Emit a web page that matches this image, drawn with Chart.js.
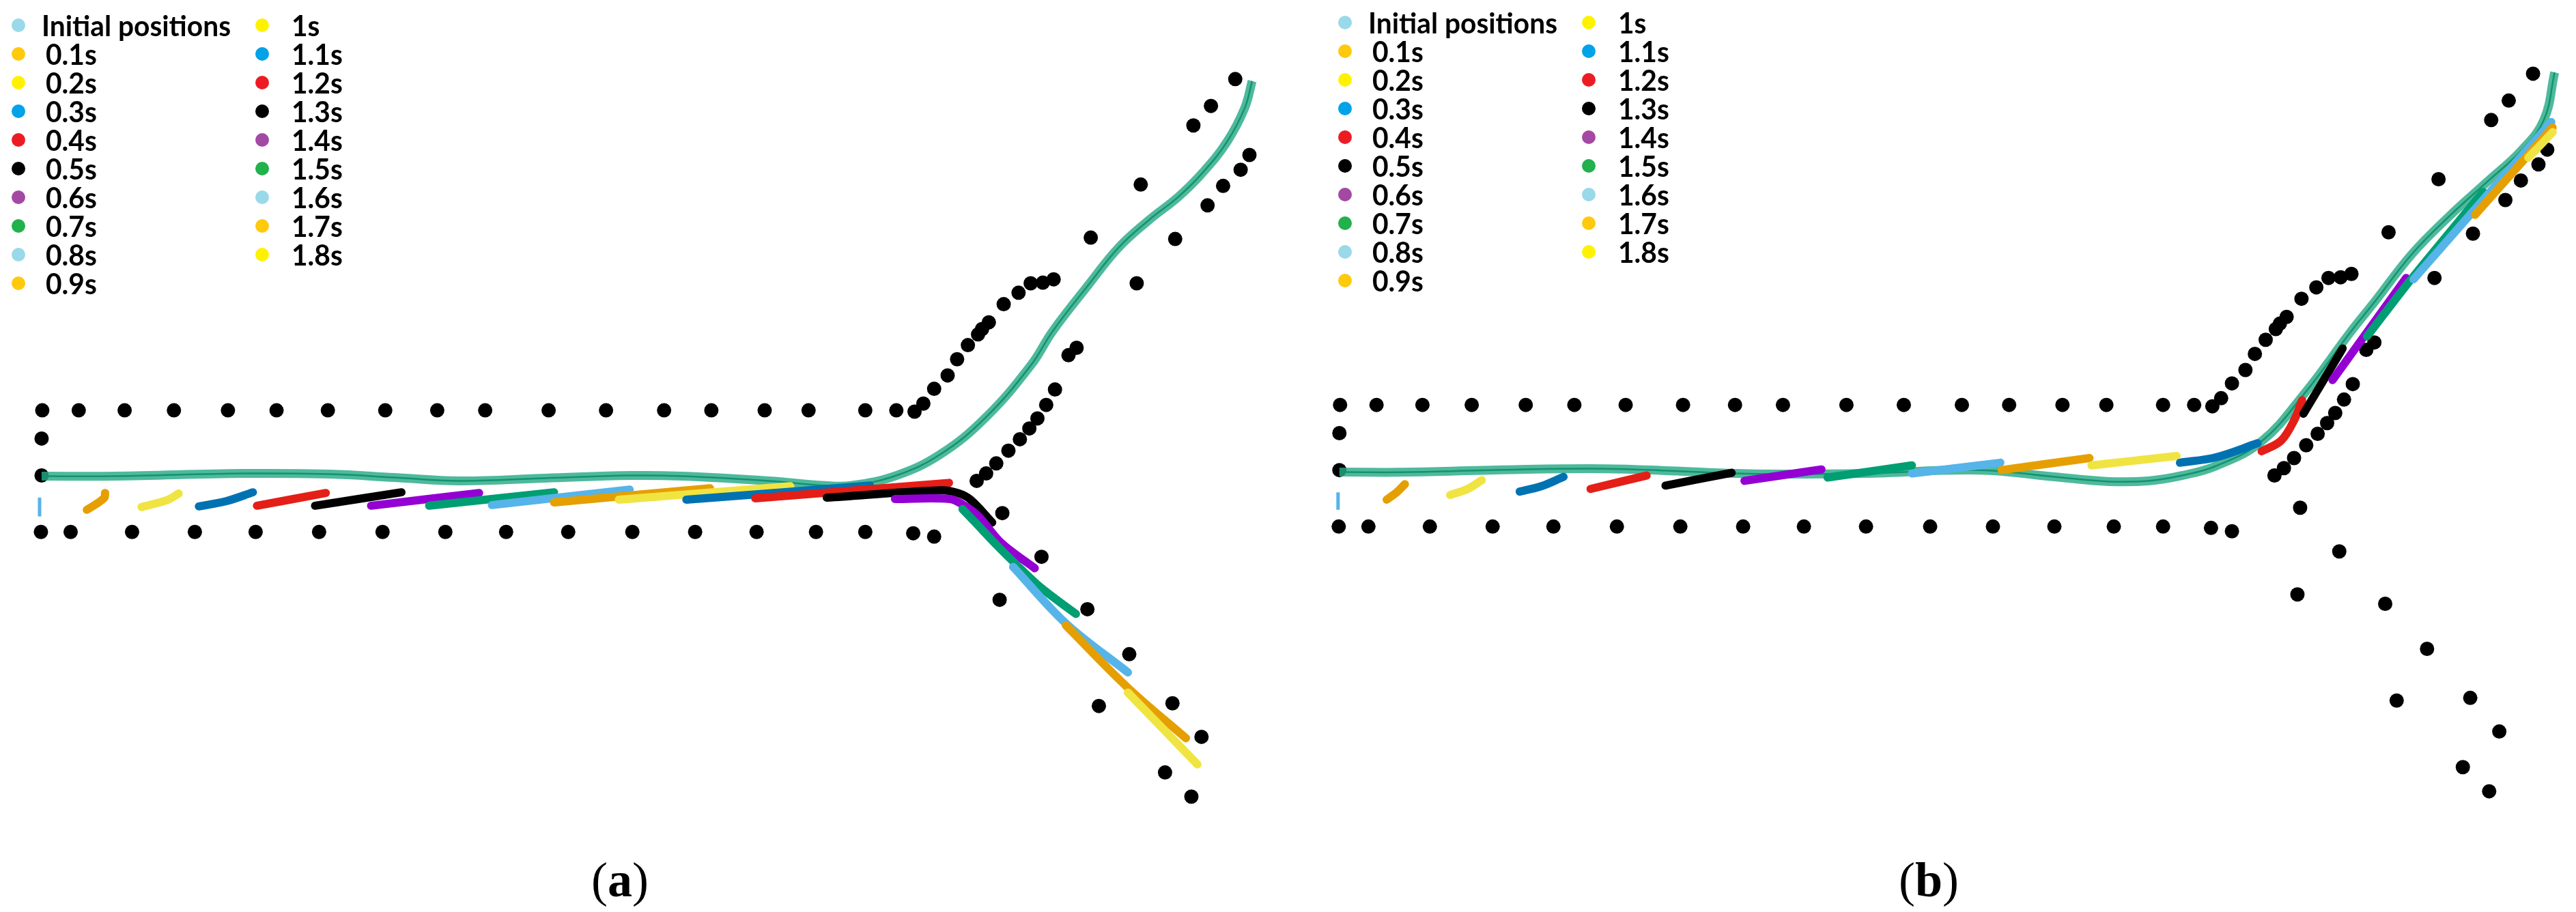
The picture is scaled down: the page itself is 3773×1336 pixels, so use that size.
<!DOCTYPE html>
<html>
<head>
<meta charset="utf-8">
<script src="https://cdn.jsdelivr.net/npm/chart.js@4.4.1/dist/chart.umd.min.js"></script>
<style>
    html, body { margin: 0; padding: 0; background: #fff; }
    #fig { position: relative; width: 3773px; height: 1336px; overflow: hidden; background: #fff; }
    #fig canvas { position: absolute; top: 0; }
    #chartA { left: 0; }
    #chartB { left: 1887px; }
    .legend { position: absolute; left: 0; top: 0; font-family: Lato, "Open Sans", sans-serif; font-weight: 700; font-size: 42px; color: #000; }
    .item { position: absolute; height: 40px; }
    .dot { position: absolute; left: -10px; top: 10px; width: 20px; height: 20px; border-radius: 50%; }
    .label { position: absolute; top: 0; line-height: 40px; white-space: nowrap; transform-origin: 0 50%; }
    .caption { position: absolute; top: 1253px; font-family: "Liberation Serif", "Times New Roman", serif; font-size: 72px; line-height: 72px; transform: translateX(-50%); }
</style>
</head>
<body>
<div id="fig">
    <canvas id="chartA" width="1886" height="1336"></canvas>
    <canvas id="chartB" width="1886" height="1336"></canvas>
    <div class="legend" id="legendA"></div>
    <div class="legend" id="legendB"></div>
    <div class="caption" style="left:908px">(<b>a</b>)</div>
    <div class="caption" style="left:2825px">(<b>b</b>)</div>
</div>
<script>
// legend entries, one per snapshot time
const timeLabels = ['Initial positions', '0.1s', '0.2s', '0.3s', '0.4s', '0.5s', '0.6s', '0.7s', '0.8s', '0.9s',
    '1s', '1.1s', '1.2s', '1.3s', '1.4s', '1.5s', '1.6s', '1.7s', '1.8s'];

// wall / obstacle markers (scene units, origin at the lower-left corner of the corridor)
const wallLeft = [[0, 139], [0, 84]];
const wallTop = [[1, 181], [55, 181], [123, 181], [196, 181], [276, 181], [348, 181], [424, 181], [509, 181],
    [586, 181], [657, 181], [751, 181], [836, 181], [922, 181], [992, 181], [1071, 181], [1136, 181],
    [1220, 181], [1266, 181], [1293, 179]];
const wallUpperLeft = [[1306, 191], [1322, 213], [1342, 233], [1356, 257], [1372, 278], [1387, 294], [1393, 302],
    [1403, 312], [1425, 339], [1447, 356], [1465, 370], [1483, 371], [1499, 376], [1554, 438], [1628, 517],
    [1706, 605], [1732, 634], [1768, 674]];
const wallUpperRight = [[1385, 76], [1399, 87], [1414, 102], [1432, 121], [1449, 138], [1463, 154], [1475, 169],
    [1488, 189], [1501, 212], [1521, 263], [1533, 274], [1622, 370], [1679, 436], [1727, 486], [1750, 515],
    [1776, 539], [1789, 561]];
const wallBottom = [[-1, 0], [43, 0], [134, 0], [227, 0], [317, 0], [411, 0], [505, 0], [598, 0], [688, 0],
    [780, 0], [875, 0], [968, 0], [1059, 0], [1147, 0], [1220, 0], [1291, -2], [1322, -7]];
const wallLowerBranch = [[1423, 28], [1481, -37], [1419, -101], [1549, -115], [1611, -182], [1566, -259],
    [1675, -255], [1718, -305], [1664, -358], [1703, -394]];

// (a) reference trajectory and crowd snapshots
const pathA = [[0, 83], [109, 83], [300, 87], [427, 86], [523, 81], [619, 76], [746, 80], [874, 84], [949, 83],
    [1077, 76], [1160, 69], [1199, 69], [1266, 84], [1332, 116], [1399, 171], [1466, 249], [1497, 298],
    [1550, 367], [1595, 423], [1640, 464], [1684, 499], [1720, 535], [1756, 581], [1782, 631], [1793, 671]];
const stepsA = [
    [[-3, 51], [-3, 23]],
    [[67, 33], [80, 41], [93, 51], [94, 58]],
    [[148, 37], [185, 47], [203, 57]],
    [[233, 38], [274, 46], [313, 59]],
    [[319, 39], [421, 58]],
    [[405, 39], [533, 59]],
    [[488, 39], [648, 58]],
    [[574, 39], [759, 59]],
    [[667, 40], [871, 63]],
    [[759, 44], [990, 65]],
    [[855, 48], [1109, 68]],
    [[955, 48], [1227, 69]],
    [[1057, 50], [1344, 73]],
    [[1163, 51], [1332, 62], [1357, 58], [1376, 48], [1408, 14]],
    [[1264, 49], [1345, 49], [1364, 41], [1387, 24], [1421, -16], [1471, -54]],
    [[1364, 34], [1383, 14], [1414, -19], [1441, -46], [1479, -82], [1532, -122]],
    [[1439, -52], [1517, -136], [1609, -209]],
    [[1517, -139], [1609, -232], [1695, -307]],
    [[1609, -239], [1712, -346]]
];

// (b) reference trajectory and crowd snapshots
const pathB = [[0, 81], [108, 81], [267, 85], [395, 86], [490, 83], [586, 79], [650, 78], [777, 79], [948, 84],
    [1059, 74], [1140, 67], [1198, 68], [1248, 76], [1298, 90], [1365, 126], [1431, 200], [1498, 290],
    [1533, 334], [1589, 406], [1644, 462], [1700, 513], [1750, 559], [1784, 605], [1800, 676]];
const stepsB = [
    [[-2, 51], [-2, 25]],
    [[70, 40], [85, 51], [97, 63]],
    [[164, 47], [190, 56], [211, 69]],
    [[267, 52], [299, 60], [332, 74]],
    [[372, 56], [455, 76]],
    [[483, 61], [581, 80]],
    [[600, 68], [714, 85]],
    [[723, 73], [848, 91]],
    [[848, 79], [979, 95]],
    [[981, 84], [1111, 102]],
    [[1114, 91], [1240, 105]],
    [[1245, 95], [1298, 103], [1360, 124]],
    [[1366, 112], [1395, 128], [1415, 160], [1426, 188]],
    [[1428, 168], [1486, 265]],
    [[1471, 218], [1580, 370]],
    [[1522, 283], [1589, 370], [1694, 498]],
    [[1591, 368], [1795, 602]],
    [[1682, 464], [1797, 594]],
    [[1761, 549], [1797, 587]]
];

// colours: plotted snapshots and legend markers cycle through 8 entries
const lineColors = ['#56B4E9', '#E69F00', '#F0E442', '#0072B2', '#E41F17', '#000000', '#9400D3', '#009E73'];
const legendColors = ['#99D9EA', '#FFC90E', '#FFF200', '#00A2E8', '#ED1C24', '#000000', '#A349A4', '#22B14C'];

const toXY = p => ({ x: p[0], y: p[1] });

function buildDatasets(path, steps) {
    const walls = [].concat(wallLeft, wallTop, wallUpperLeft, wallUpperRight, wallBottom, wallLowerBranch);
    const datasets = [{
        data: walls.map(toXY),
        showLine: false,
        pointRadius: 10.5,
        pointBackgroundColor: '#000',
        pointBorderWidth: 0,
        order: 1000
    }, {
        data: path.map(toXY),
        showLine: true,
        borderColor: 'rgba(40,170,134,0.82)',
        borderWidth: 13,
        pointRadius: 0,
        tension: 0.4,
        order: 900
    }, {
        data: path.map(toXY),
        showLine: true,
        borderColor: '#12936f',
        borderWidth: 2.5,
        pointRadius: 0,
        tension: 0.4,
        order: 899
    }];
    steps.forEach((s, i) => {
        datasets.push({
            data: s.map(toXY),
            showLine: true,
            borderColor: lineColors[i % lineColors.length],
            borderWidth: i === 0 ? 5 : 12,
            borderCapStyle: i === 0 ? 'butt' : 'round',
            pointRadius: 0,
            tension: 0.35,
            order: 100 - i
        });
    });
    return datasets;
}

function makeChart(id, path, steps, xr, yr) {
    return new Chart(document.getElementById(id), {
        type: 'scatter',
        data: { datasets: buildDatasets(path, steps) },
        options: {
            responsive: false,
            animation: false,
            events: [],
            layout: { padding: 0 },
            plugins: { legend: { display: false }, tooltip: { enabled: false } },
            scales: {
                x: { type: 'linear', min: xr[0], max: xr[1], display: false },
                y: { type: 'linear', min: yr[0], max: yr[1], display: false }
            }
        }
    });
}

makeChart('chartA', pathA, stepsA, [-51, 1835], [-555, 781]);
makeChart('chartB', pathB, stepsB, [-65, 1821], [-563, 773]);

function buildLegend(id, x0, y0) {
    const el = document.getElementById(id);
    const ctx = document.createElement('canvas').getContext('2d');
    ctx.font = '700 42px Lato, "Open Sans", sans-serif';
    const sx = 277 / ctx.measureText(timeLabels[0]).width;
    timeLabels.forEach((label, i) => {
        const col = i < 10 ? 0 : 1;
        const row = i % 10;
        const item = document.createElement('div');
        item.className = 'item';
        item.style.left = (x0 + col * 357) + 'px';
        item.style.top = (y0 + row * 42 - 20) + 'px';
        const dot = document.createElement('div');
        dot.className = 'dot';
        dot.style.background = legendColors[i % legendColors.length];
        const text = document.createElement('div');
        text.className = 'label';
        text.textContent = label;
        text.style.left = (i === 0 ? 34 : (col === 0 ? 40 : 43)) + 'px';
        text.style.transform = 'scaleX(' + sx.toFixed(3) + ')';
        item.appendChild(dot);
        item.appendChild(text);
        el.appendChild(item);
    });
}

buildLegend('legendA', 27, 37);
buildLegend('legendB', 1970, 33);
</script>
</body>
</html>
